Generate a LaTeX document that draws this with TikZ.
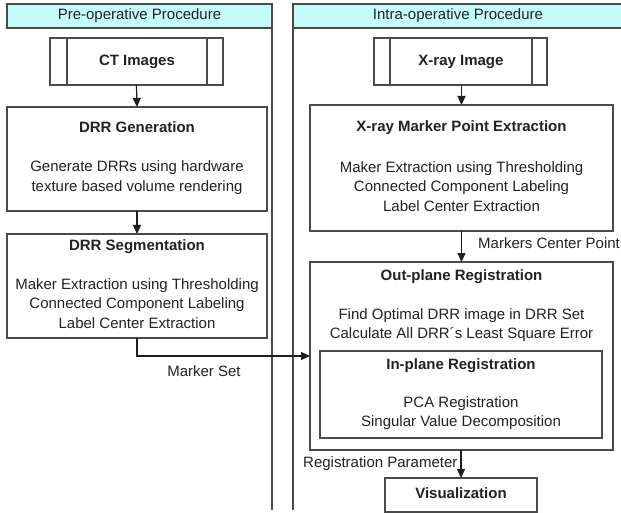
\documentclass[tikz,border=0pt]{standalone}
\usepackage{fontspec}
\setmainfont{Liberation Sans}
\usetikzlibrary{arrows.meta,calc}
\definecolor{linec}{HTML}{4A4A4A}
\definecolor{arrc}{HTML}{1E1E1E}
\definecolor{txtc}{HTML}{222222}
\definecolor{hdrfill}{HTML}{C4FCFC}
\begin{document}
\begin{tikzpicture}[x=1pt,y=-1pt,
  every node/.style={font=\fontsize{15}{19.5}\selectfont, text=txtc},
  box/.style={draw=linec, line width=1.3pt, fill=white, inner sep=0pt, outer sep=0pt},
  hdr/.style={draw=linec, line width=1.3pt, fill=hdrfill, inner sep=0pt, outer sep=0pt},
  ttl/.style={font=\fontsize{15}{19.5}\selectfont\bfseries, text height=11pt, text depth=3pt, inner sep=0pt},
  body/.style={align=center, inner sep=0pt},
  lbl/.style={inner sep=0pt, text height=11pt, text depth=3pt},
  arr/.style={draw=arrc, line width=1.2pt, -{Triangle[length=9pt,width=8pt]}},
  lane/.style={draw=linec, line width=1.3pt},
  inner/.style={draw=linec, line width=1.3pt}]
\useasboundingbox (0,0) rectangle (621,513);
\fill[white] (0,0) rectangle (621,513);

% lanes
\coordinate (laneLtop) at (272,4);
\coordinate (laneLbot) at (272,510);
\coordinate (laneRtop) at (293,4);
\coordinate (laneRbot) at (293,510);
\draw[lane] (laneLtop) -- (laneLbot);
\draw[lane] (laneRtop) -- (laneRbot);
\node[hdr, minimum width=265pt, minimum height=24pt] (hdrL) at (139.5,16) {};
\node[lbl] (hdrLt) at (139.5,16) {Pre-operative Procedure};
\node[hdr, minimum width=332pt, minimum height=24pt, anchor=west] (hdrR) at (293,16) {};
\node[lbl] (hdrRt) at (458,16) {Intra-operative Procedure};

% left column
\node[box, minimum width=173pt, minimum height=47pt] (ct) at (136.5,61.5) {};
\draw[inner] ([xshift=17pt]ct.north west) -- ([xshift=17pt]ct.south west);
\draw[inner] ([xshift=-16pt]ct.north east) -- ([xshift=-16pt]ct.south east);
\node[ttl] (ctt) at (137,61.5) {CT Images};

\node[box, minimum width=260pt, minimum height=104pt] (gen) at (137,159) {};
\node[ttl] (gent) at (137,129) {DRR Generation};
\node[body] (genb) at (137,177.5) {Generate DRRs using hardware\\texture based volume rendering};

\node[box, minimum width=260pt, minimum height=104pt] (seg) at (137,286) {};
\node[ttl] (segt) at (137,247) {DRR Segmentation};
\node[body] (segb) at (137,303.5) {Maker Extraction using Thresholding\\Connected Component Labeling\\Label Center Extraction};

% right column
\node[box, minimum width=173pt, minimum height=47pt] (xr) at (460.5,61.5) {};
\draw[inner] ([xshift=16pt]xr.north west) -- ([xshift=16pt]xr.south west);
\node[ttl] (xrt) at (461,61.5) {X-ray Image};
\draw[inner] ([xshift=-15pt]xr.north east) -- ([xshift=-15pt]xr.south east);

\node[box, minimum width=303pt, minimum height=126pt] (mk) at (461.5,168) {};
\node[ttl] (mkt) at (461.5,128) {X-ray Marker Point Extraction};
\node[body] (mkb) at (461.5,186.5) {Maker Extraction using Thresholding\\Connected Component Labeling\\Label Center Extraction};

\node[box, minimum width=303pt, minimum height=188pt] (out) at (461.5,356) {};
\node[ttl] (outt) at (461.5,276) {Out-plane Registration};
\node[body] (outb) at (461.5,325) {Find Optimal DRR image in DRR Set\\Calculate All DRR\textasciiacute s Least Square Error};

\node[box, minimum width=282pt, minimum height=87pt] (inp) at (461,394.5) {};
\node[ttl] (inpt) at (461,365) {In-plane Registration};
\node[body] (inpb) at (461,413) {PCA Registration\\Singular Value Decomposition};

\node[box, minimum width=152pt, minimum height=34pt] (vis) at (461,495) {};
\node[ttl] (vist) at (461,494) {Visualization};

% connectors
\draw[arr] (ct.south) -- (gen.north);
\draw[arr] (gen.south) -- (seg.north);
\draw[arr] (xr.south -| mk.north) -- (mk.north);
\draw[arr] (mk.south) -- (out.north);
\draw[arr] (out.south -| vis.north) -- (vis.north);
\coordinate (bend) at (137,356);
\draw[arr] (seg.south) -- (bend) -- (bend -| out.west);

% labels
\node[lbl, anchor=west] (lmc) at (478,244) {Markers Center Point};
\node[lbl] (lms) at (204,372) {Marker Set};
\node[lbl, anchor=west] (lrp) at (303,463) {Registration Parameter};
\end{tikzpicture}
\end{document}
